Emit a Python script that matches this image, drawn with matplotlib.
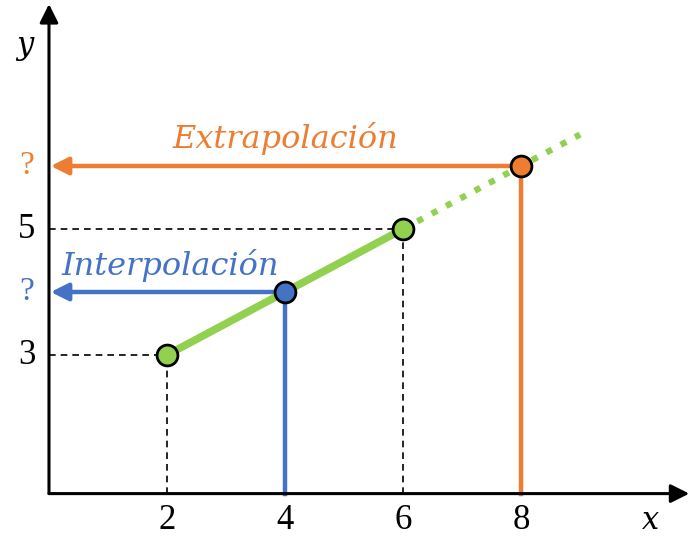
import matplotlib.pyplot as plt

# datos conocidos y puntos estimados
x_conocidos = [2, 6]
y_conocidos = [3, 5]
x_interp, y_interp = 4, 4
x_extrap, y_extrap = 8, 6
x_recta = [6, 9]
y_recta = [5, 6.5]
xticks = [2, 4, 6, 8]
yticks = [3, 5]

naranja = '#ED7D31'
azul = '#4472C4'
verde = '#92D050'
fuente = 'Liberation Serif'
fuente_it = 'DejaVu Serif'

y0 = 0.8  # altura del eje x (esquema)

fig = plt.figure(figsize=(6.94, 5.52), dpi=100)
ax = fig.add_axes([0, 0, 1, 1])
ax.set_xlim(-0.83, 10.93)
ax.set_ylim(-0.127, 8.635)
ax.axis('off')

# ejes con flechas
flecha = dict(arrowstyle='-|>', lw=2.2, color='k', mutation_scale=28,
              shrinkA=0, shrinkB=0)
ax.annotate('', xy=(10.85, y0), xytext=(0, y0), arrowprops=flecha)
ax.annotate('', xy=(0, 8.57), xytext=(0, y0), arrowprops=flecha)

# líneas guía discontinuas
for xk, yk in zip(x_conocidos, y_conocidos):
    ax.plot([0, xk], [yk, yk], color='k', ls=(0, (4, 3)), lw=1.2, zorder=1)
    ax.plot([xk, xk], [y0, yk], color='k', ls=(0, (4, 3)), lw=1.2, zorder=1)

# interpolación y extrapolación
for xp, yp, col in [(x_interp, y_interp, azul), (x_extrap, y_extrap, naranja)]:
    ax.plot([xp, xp], [y0, yp], color=col, lw=3.2, zorder=2)
    ax.annotate('', xy=(0.03, yp), xytext=(xp, yp),
                arrowprops=dict(arrowstyle='-|>', lw=3.2, color=col,
                                mutation_scale=26, shrinkA=0, shrinkB=0),
                zorder=2)

# recta
ax.plot(x_conocidos, y_conocidos, color=verde, lw=5.5, zorder=3,
        solid_capstyle='butt')
ax.plot(x_recta, y_recta, color=verde, lw=4.5, ls=(0, (1, 1.6)), zorder=3,
        dash_capstyle='butt')

# puntos
ax.plot(x_conocidos, y_conocidos, 'o', ms=15, mfc=verde, mec='k', mew=2, zorder=5)
ax.plot([x_interp], [y_interp], 'o', ms=15, mfc=azul, mec='k', mew=2, zorder=5)
ax.plot([x_extrap], [y_extrap], 'o', ms=15, mfc=naranja, mec='k', mew=2, zorder=5)

# etiquetas de los ejes
for xt in xticks:
    ax.text(xt, 0.38, str(xt), fontsize=25, family=fuente, ha='center', va='center')
for yt in yticks:
    ax.text(-0.38, yt, str(yt), fontsize=25, family=fuente, ha='center', va='center')
ax.text(-0.38, y_extrap, '?', fontsize=24, family=fuente, color=naranja,
        ha='center', va='center')
ax.text(-0.38, y_interp, '?', fontsize=24, family=fuente, color=azul,
        ha='center', va='center')
ax.text(10.19, 0.38, 'x', fontsize=22, family=fuente_it, style='italic',
        ha='center', va='center')
ax.text(-0.41, 7.92, 'y', fontsize=22, family=fuente_it, style='italic',
        ha='center', va='center')

ax.text(4.0, 6.44, 'Extrapolación', fontsize=23, family=fuente_it, style='italic',
        color=naranja, ha='center', va='center')
ax.text(2.05, 4.42, 'Interpolación', fontsize=23, family=fuente_it, style='italic',
        color=azul, ha='center', va='center')

plt.savefig('out.png', dpi=100)
